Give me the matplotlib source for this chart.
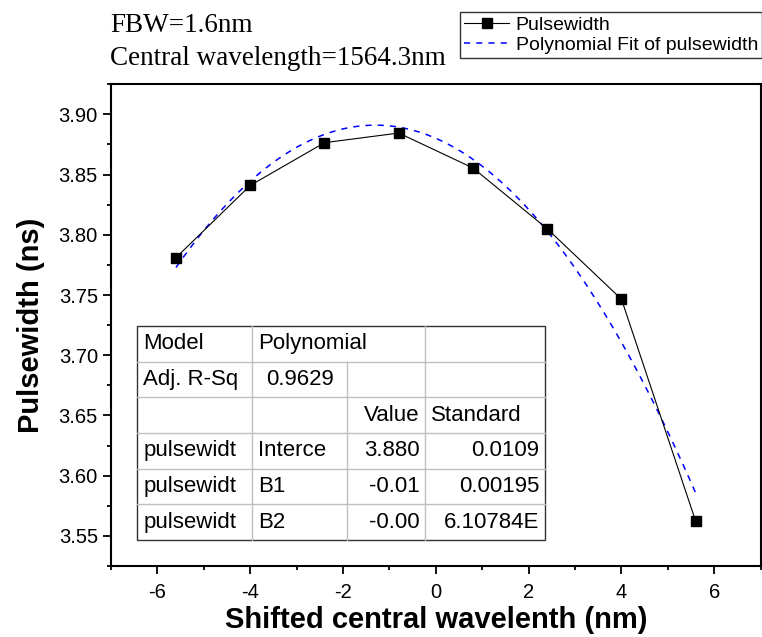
import numpy as np
import matplotlib
matplotlib.use("Agg")
import matplotlib.pyplot as plt
from matplotlib.ticker import MultipleLocator, FormatStrFormatter
from matplotlib.patches import Rectangle

plt.rcParams['font.family'] = ['Liberation Sans', 'DejaVu Sans']
plt.rcParams['axes.unicode_minus'] = False

# measured data
shift = [-5.6, -4.0, -2.4, -0.8, 0.8, 2.4, 4.0, 5.6]
pulsewidth = [3.781, 3.841, 3.8765, 3.8845, 3.8555, 3.805, 3.7465, 3.562]

# fit parameters shown in the table
table_rows = [
    ["Model", "Polynomial", "", ""],
    ["Adj. R-Sq", "0.9629", "", ""],
    ["", "", "Value", "Standard"],
    ["pulsewidt", "Interce", "3.880", "0.0109"],
    ["pulsewidt", "B1", "-0.01", "0.00195"],
    ["pulsewidt", "B2", "-0.00", "6.10784E"],
]

coef = np.polyfit(shift, pulsewidth, 2)
xfit = np.linspace(min(shift), max(shift), 200)
yfit = np.polyval(coef, xfit)

fig = plt.figure(figsize=(7.62, 6.37), dpi=100)
ax = fig.add_axes([0.1457, 0.1115, 0.8526, 0.7562])

ax.plot(shift, pulsewidth, color='black', lw=0.8, marker='s', ms=7.5,
        mfc='black', mec='black', label='Pulsewidth', zorder=3)
ax.plot(xfit, yfit, color='blue', lw=1.1, ls=(0, (4, 4)),
        label='Polynomial Fit of pulsewidth', zorder=2)

ax.set_xlim(-7, 7)
ax.set_ylim(3.525, 3.925)
ax.xaxis.set_major_locator(MultipleLocator(2))
ax.xaxis.set_minor_locator(MultipleLocator(1))
ax.yaxis.set_major_locator(MultipleLocator(0.05))
ax.yaxis.set_minor_locator(MultipleLocator(0.025))
ax.yaxis.set_major_formatter(FormatStrFormatter('%.2f'))
ax.tick_params(which='major', direction='out', length=6, width=1.3, labelsize=14.5)
ax.tick_params(which='minor', direction='out', length=3, width=1.3)
ax.tick_params(axis='x', pad=6)
for s in ax.spines.values():
    s.set_linewidth(1.5)

ax.set_xlabel('Shifted central wavelenth (nm)', fontsize=21, fontweight='bold', labelpad=3)
ax.set_ylabel('Pulsewidth (ns)', fontsize=21, fontweight='bold', labelpad=10)

# table with fit results
col_w = [115, 94.4, 78.6, 119.7]
row_h = 35.7
aw, ah = 649.7, 481.7
x0 = (137.3 - 111) / aw
y0 = (566 - 326) / ah
cols = [x0]
for w in col_w:
    cols.append(cols[-1] + w / aw)
rh = row_h / ah
nrows = len(table_rows)
tr = ax.transAxes
ax.add_patch(Rectangle((cols[0], y0 - nrows * rh), cols[-1] - cols[0], nrows * rh,
                       transform=tr, fc='white', ec='#333333', lw=1.0, zorder=5))
for i in range(1, nrows):
    ax.plot([cols[0], cols[-1]], [y0 - i * rh] * 2, transform=tr, color='#bfbfbf', lw=1.0, zorder=6)
for j in range(1, 4):
    for i in range(nrows):
        if i == 0 and j == 2:
            continue
        ax.plot([cols[j]] * 2, [y0 - i * rh, y0 - (i + 1) * rh], transform=tr,
                color='#bfbfbf', lw=1.0, zorder=6)
pad = 6 / aw
for i, row in enumerate(table_rows):
    yc = y0 - (i + 0.5) * rh
    for j, txt in enumerate(row):
        if not txt:
            continue
        if i == 1 and j == 1:
            xt, ha = (cols[j] + cols[j + 1]) / 2, 'center'
        elif j == 2 or (j == 3 and i >= 3):
            xt, ha = cols[j + 1] - pad, 'right'
        else:
            xt, ha = cols[j] + pad, 'left'
        ax.text(xt, yc, txt, transform=tr, ha=ha, va='center', fontsize=16, zorder=7)

leg = fig.legend(loc='upper right', bbox_to_anchor=(1.0, 1 - 12 / 637), fontsize=14,
                 frameon=True, fancybox=False, edgecolor='black', handlelength=2.3,
                 borderpad=0.2, labelspacing=0.15, handletextpad=0.35, borderaxespad=0)
leg.get_frame().set_linewidth(1.0)

serif = ['Liberation Serif', 'DejaVu Serif']
fig.text(110 / 762, 1 - 32 / 637, 'FBW=1.6nm', family=serif, fontsize=19.5)
fig.text(110 / 762, 1 - 65 / 637, 'Central wavelength=1564.3nm', family=serif, fontsize=19.5)

fig.savefig('out.png', dpi=100)
